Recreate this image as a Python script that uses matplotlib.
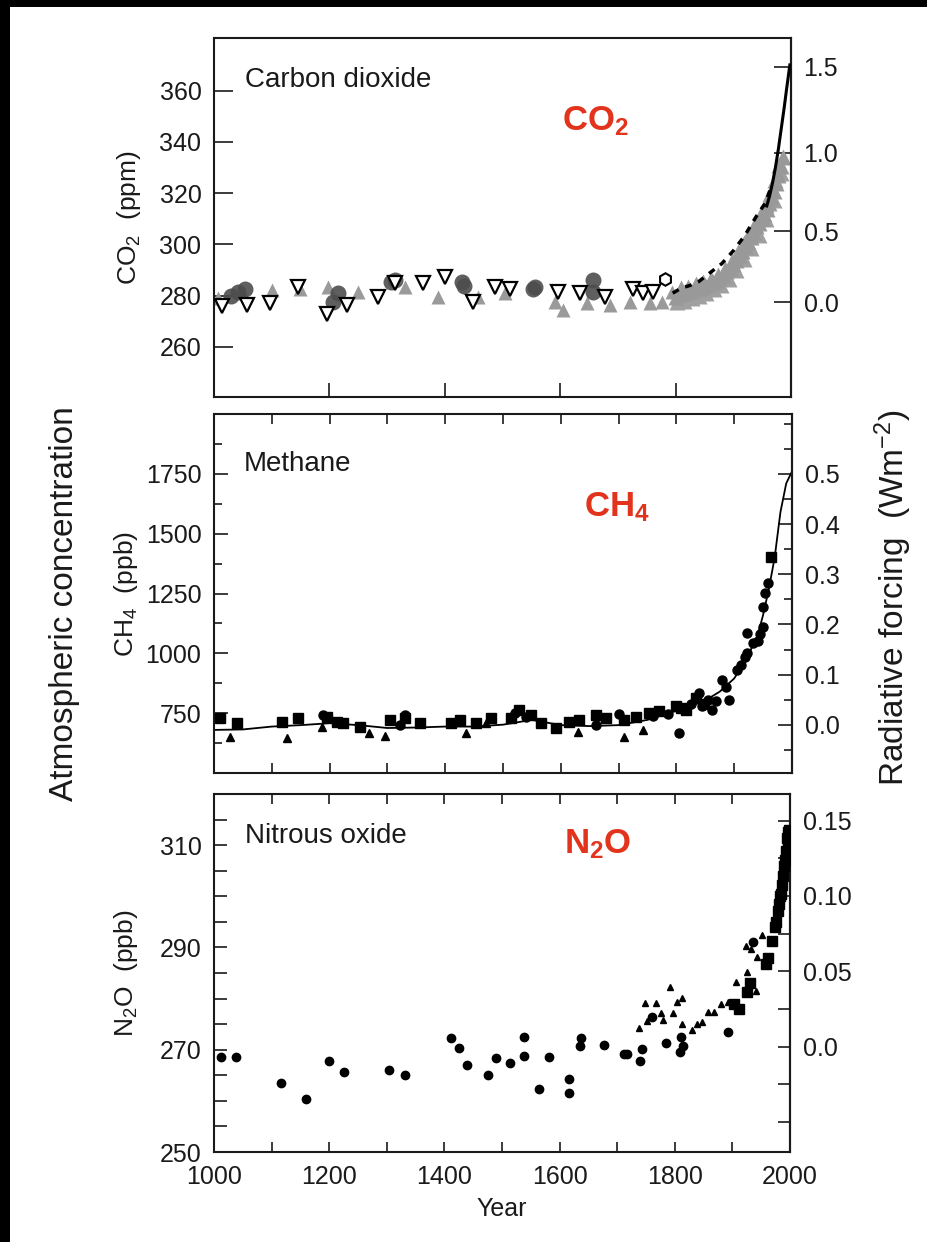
import numpy as np
import matplotlib
matplotlib.use("Agg")
import matplotlib.pyplot as plt
import matplotlib.patches as patches
from matplotlib.ticker import FixedLocator, MultipleLocator, FormatStrFormatter, FuncFormatter

plt.rcParams['font.family'] = ['Liberation Sans', 'DejaVu Sans']
plt.rcParams['mathtext.fontset'] = 'custom'
plt.rcParams['mathtext.rm'] = 'Liberation Sans'
plt.rcParams['mathtext.bf'] = 'Liberation Sans:bold'
plt.rcParams['mathtext.it'] = 'Liberation Sans:italic'

# ---------------- data ----------------
# CO2 (ppm)
co2_open_year = [1013, 1057, 1097, 1146, 1195, 1230, 1285, 1314, 1363, 1400, 1449, 1487,
                 1513, 1597, 1634, 1678, 1727, 1744, 1761]
co2_open_val = [276, 276.3, 277, 283.5, 273, 276.3, 279.6, 284.8, 284.8, 287.4, 277.6, 283.5,
                282.8, 281.5, 280.9, 279.6, 282.8, 280.9, 281.5]
co2_ring_year = [1782]
co2_ring_val = [286.7]
co2_circ_year = [1030, 1042, 1054, 1207, 1215, 1306, 1314, 1433, 1429, 1552, 1556, 1657, 1657]
co2_circ_val = [280, 281.5, 282.8, 277.6, 280.9, 285.4, 286, 283.8, 285.4, 282.6, 283.5, 286, 281.5]
co2_grey_year = [1007, 1048, 1100, 1149, 1198, 1250, 1331, 1389, 1458, 1504, 1591, 1605,
                 1646, 1686, 1721, 1756, 1776, 1793]
co2_grey_val = [279, 281.5, 282.2, 282.8, 283.5, 281.5, 283.5, 279.6, 279.6, 280.9, 277.6, 274.4,
                277, 276.3, 277.6, 277, 277.6, 281.5]
co2_band_year = [1800, 1806, 1812, 1818, 1825, 1832, 1838, 1845, 1851, 1858, 1864, 1870, 1876,
                 1882, 1888, 1894, 1900, 1905, 1910, 1915, 1920, 1925, 1930, 1935, 1940, 1945,
                 1950, 1954, 1958, 1962, 1966, 1970, 1974, 1978, 1982, 1986]
co2_band_val = [279.5, 280.5, 281, 281.5, 282, 282.5, 283, 283.5, 284, 284.5, 285.5, 286, 287,
                288, 289.5, 291, 292.5, 294, 296, 297.5, 299.5, 301, 303, 305, 307, 308.5,
                310.5, 312, 314, 316, 318.5, 321, 324, 327, 330.5, 334]
co2_band2_year = [1803, 1815, 1828, 1840, 1853, 1866, 1879, 1892, 1905, 1918, 1931, 1944, 1957,
                  1970, 1983]
co2_band2_val = [277.5, 278, 279, 280, 281, 282.5, 284, 286.5, 290, 294.5, 298.5, 303.5, 310,
                 317.5, 328]
co2_band3_year = [1809, 1822, 1835, 1848, 1861, 1873, 1885, 1897, 1908, 1918, 1928, 1938, 1948,
                  1956, 1964, 1972, 1980]
co2_band3_val = [283, 283.5, 284.5, 285.5, 286.5, 288, 290.5, 293.5, 297, 300.5, 304, 308, 312,
                 315.5, 319.5, 325, 331]
co2_ice_year = [1795, 1810, 1825, 1840, 1860, 1880, 1900, 1920, 1940, 1955, 1965]
co2_ice_val = [281, 283, 284, 285.5, 289, 292.5, 297.5, 303.5, 311, 316, 322]
co2_ml_year = [1958, 1963, 1968, 1973, 1978, 1983, 1988, 1992, 1995, 1998]
co2_ml_val = [315, 319, 324, 330, 337, 345, 353, 360, 365, 370]

# CH4 (ppb)
ch4_sq_year = [1010, 1039, 1117, 1146, 1195, 1212, 1223, 1252, 1304, 1330, 1356, 1410, 1425,
               1454, 1480, 1514, 1528, 1549, 1566, 1592, 1615, 1632, 1661, 1678, 1710, 1730,
               1753, 1770, 1799, 1808, 1816, 1834, 1848, 1963]
ch4_sq_val = [729, 708, 715, 729, 736, 715, 708, 694, 722, 729, 708, 708, 722,
              708, 729, 729, 764, 743, 708, 687, 715, 722, 743, 729, 722, 736,
              750, 757, 778, 770, 764, 813, 790, 1404]
ch4_tri_year = [1028, 1126, 1186, 1269, 1295, 1436, 1470, 1629, 1710, 1742]
ch4_tri_val = [652, 645, 694, 666, 655, 666, 708, 673, 652, 680]
ch4_dot_year = [1188, 1321, 1330, 1520, 1540, 1661, 1700, 1760, 1770, 1785, 1799, 1805, 1816,
                1826, 1834, 1839, 1845, 1855, 1862, 1868, 1879, 1885, 1891, 1905, 1912, 1918,
                1923, 1923, 1932, 1941, 1945, 1949, 1949, 1954, 1958]
ch4_dot_val = [743, 701, 743, 750, 735, 701, 745, 740, 757, 745, 778, 666, 764,
               790, 813, 834, 778, 805, 764, 800, 889, 860, 806, 931, 950, 985,
               1001, 1084, 1043, 1050, 1080, 1112, 1195, 1251, 1293]
ch4_line_year = [1000, 1050, 1100, 1150, 1200, 1250, 1300, 1350, 1400, 1450, 1500, 1550, 1600,
                 1650, 1700, 1750, 1800, 1825, 1850, 1875, 1900, 1920, 1940, 1950, 1960, 1970,
                 1980, 1990, 2000]
ch4_line_val = [680, 682, 694, 700, 708, 700, 688, 690, 694, 694, 702, 722, 700,
                696, 700, 722, 760, 780, 803, 840, 895, 973, 1070, 1160, 1270, 1400,
                1590, 1710, 1760]

# N2O (ppb)
n2o_dot_year = [1012, 1038, 1117, 1160, 1200, 1226, 1304, 1331, 1412, 1426, 1439, 1475, 1490,
                1514, 1538, 1538, 1564, 1581, 1616, 1616, 1635, 1637, 1677, 1712, 1717, 1740,
                1743, 1761, 1784, 1809, 1810, 1815, 1893, 1935]
n2o_dot_val = [268.6, 268.6, 263.4, 260.4, 267.7, 265.7, 266, 265, 272.3, 270.3, 267.1, 265, 268.3,
               267.4, 272.4, 268.8, 262.4, 268.5, 264.3, 261.5, 270.8, 272.3, 271, 269.2, 269.2, 267.7,
               270.2, 276.3, 271.4, 269.6, 272.5, 270.8, 273.5, 291.1]
n2o_tri_year = [1737, 1748, 1751, 1767, 1776, 1780, 1792, 1797, 1804, 1812, 1813, 1829, 1839,
                1848, 1858, 1868, 1880, 1892, 1906, 1923, 1926, 1932, 1941, 1943, 1952]
n2o_tri_val = [274.2, 279.1, 275.6, 279.1, 277.1, 275.9, 282.2, 277.1, 279.4, 280.2, 275, 273.9, 275,
               275.4, 277.4, 277.4, 279, 279.3, 283.3, 290.2, 285.1, 289.7, 281.4, 288.2, 292.5]
n2o_sq_year = [1903, 1912, 1926, 1930, 1958, 1961, 1968, 1974, 1976, 1979, 1981, 1983, 1984,
               1986, 1988, 1989, 1991, 1993, 1995, 1996, 1997, 1998, 1999]
n2o_sq_val = [278.9, 278, 281.3, 283, 286.8, 288, 291.3, 293.9, 295, 297.1, 298.5, 300, 300.4,
              302.3, 304, 305.9, 307, 308.8, 311.4, 310, 312.5, 313, 311]

red = '#e2341d'
ink = '#1a1a1a'

W, H = 928, 1242
fig = plt.figure(figsize=(W / 100, H / 100), dpi=100)


def box(x0, y0, x1, y1):
    return [x0 / W, 1 - y1 / H, (x1 - x0) / W, (y1 - y0) / H]


# black frame strips at the top and left of the picture
fig.patches.append(patches.Rectangle((0, 1 - 7 / H), 1, 7 / H, transform=fig.transFigure,
                                     facecolor='black', edgecolor='none'))
fig.patches.append(patches.Rectangle((0, 0), 10 / W, 1, transform=fig.transFigure,
                                     facecolor='black', edgecolor='none'))

ax1 = fig.add_axes(box(214, 38, 791, 397))
ax2 = fig.add_axes(box(214, 414, 792, 773))
ax3 = fig.add_axes(box(214, 794, 790, 1152))

for ax in (ax1, ax2, ax3):
    ax.set_xlim(1000, 2000)
    for s in ax.spines.values():
        s.set_linewidth(1.5)
        s.set_color(ink)
    ax.tick_params(direction='in', colors=ink, labelsize=18, width=1.2, pad=9)

# ---------- CO2 ----------
ax1.plot(co2_grey_year, co2_grey_val, '^', color='#9a9a9a', ms=10, mec='none', zorder=2)
ax1.plot(co2_band2_year, co2_band2_val, '^', color='#a0a0a0', ms=11, mec='none', zorder=2)
ax1.plot(co2_band3_year, co2_band3_val, '^', color='#9c9c9c', ms=11, mec='none', zorder=2)
ax1.plot(co2_band_year, co2_band_val, '^', color='#999999', ms=11, mec='none', zorder=2)
ax1.plot(co2_circ_year, co2_circ_val, 'o', color='#4d4d4d', ms=11.5, mec='none', alpha=0.9, zorder=3)
ax1.plot(co2_ice_year, co2_ice_val, color='black', lw=2.5, ls=(0, (2, 2)), zorder=4)
ax1.plot(co2_ml_year, co2_ml_val, color='black', lw=2.2, zorder=4)
ax1.plot(co2_open_year, co2_open_val, 'v', mfc='white', mec='black', ms=9.5, mew=1.6, zorder=5)
ax1.plot(co2_ring_year, co2_ring_val, 'h', mfc='white', mec='black', ms=9, mew=1.5, zorder=5)
ax1.set_ylim(240.5, 380.5)
ax1.yaxis.set_major_locator(FixedLocator([260, 280, 300, 320, 340, 360]))
ax1.xaxis.set_major_locator(FixedLocator([1200, 1400, 1600, 1800]))
ax1.tick_params(axis='y', length=14)
ax1.tick_params(axis='x', length=10, labelbottom=False)

co2_a, co2_c0 = 5.25, 277.5
sec1 = ax1.secondary_yaxis('right', functions=(lambda c: co2_a * np.log(np.maximum(c, 1e-6) / co2_c0),
                                               lambda f: co2_c0 * np.exp(f / co2_a)))
sec1.yaxis.set_major_locator(FixedLocator([0.0, 0.5, 1.0, 1.5]))
sec1.yaxis.set_major_formatter(FormatStrFormatter('%.1f'))
sec1.tick_params(direction='in', length=12, width=1.2, colors=ink, labelsize=18, pad=9)
sec1.spines['right'].set_linewidth(1.5)

ax1.text(0.054, 0.864, 'Carbon dioxide', transform=ax1.transAxes, fontsize=20, color=ink,
         va='baseline')
ax1.text(0.603, 0.743, r'$\mathbf{CO_2}$', transform=ax1.transAxes, fontsize=25, color=red,
         va='baseline')
ax1.text(-0.148, 0.5, r'CO$_2$  (ppm)', transform=ax1.transAxes, rotation=90, fontsize=19,
         color=ink, ha='center', va='center')

# ---------- CH4 ----------
ax2.plot(ch4_line_year, ch4_line_val, color='black', lw=1.3, zorder=2)
ax2.plot(ch4_sq_year, ch4_sq_val, 's', color='black', ms=7, zorder=3)
ax2.plot(ch4_tri_year, ch4_tri_val, '^', color='black', ms=5.5, zorder=3)
ax2.plot(ch4_dot_year, ch4_dot_val, 'o', color='black', ms=6.5, zorder=3)
ax2.set_ylim(500, 2000)
ax2.yaxis.set_major_locator(FixedLocator([750, 1000, 1250, 1500, 1750]))
ax2.yaxis.set_minor_locator(MultipleLocator(125))
ax2.xaxis.set_major_locator(MultipleLocator(100))
ax2.tick_params(axis='y', which='major', length=10)
ax2.tick_params(axis='y', which='minor', direction='in', length=6, width=1.2, colors=ink)
ax2.tick_params(axis='x', length=7, top=True, labelbottom=False)

sec2 = ax2.secondary_yaxis('right', functions=(lambda m: (m - 701) / 2098,
                                               lambda f: f * 2098 + 701))
sec2.yaxis.set_major_locator(FixedLocator([0.0, 0.1, 0.2, 0.3, 0.4, 0.5]))
sec2.yaxis.set_minor_locator(MultipleLocator(0.05))
sec2.yaxis.set_major_formatter(FormatStrFormatter('%.1f'))
sec2.tick_params(direction='in', length=10, width=1.2, colors=ink, labelsize=18, pad=9)
sec2.tick_params(which='minor', direction='in', length=6, width=1.2, colors=ink)
sec2.spines['right'].set_linewidth(1.5)

ax2.text(0.052, 0.842, 'Methane', transform=ax2.transAxes, fontsize=20, color=ink,
         va='baseline')
ax2.text(0.641, 0.714, r'$\mathbf{CH_4}$', transform=ax2.transAxes, fontsize=25, color=red,
         va='baseline')
ax2.text(-0.152, 0.5, r'CH$_4$  (ppb)', transform=ax2.transAxes, rotation=90, fontsize=19,
         color=ink, ha='center', va='center')

# ---------- N2O ----------
ax3.plot(n2o_dot_year, n2o_dot_val, 'o', color='black', ms=6, zorder=3)
ax3.plot(n2o_tri_year, n2o_tri_val, '^', color='black', ms=4, zorder=3)
ax3.plot(n2o_sq_year, n2o_sq_val, 's', color='black', ms=7.5, zorder=4)
ax3.set_ylim(250, 320)
ax3.yaxis.set_major_locator(FixedLocator([250, 270, 290, 310]))
ax3.yaxis.set_minor_locator(MultipleLocator(5))
ax3.xaxis.set_major_locator(MultipleLocator(200))
ax3.xaxis.set_minor_locator(MultipleLocator(100))
ax3.tick_params(axis='y', which='both', length=9, width=1.2, direction='in', colors=ink)
ax3.tick_params(axis='x', which='both', length=7, width=1.2, top=True, direction='in', colors=ink)

sec3 = ax3.secondary_yaxis('right', functions=(lambda n: (n - 270.6) * 0.003394,
                                               lambda f: f / 0.003394 + 270.6))
sec3.yaxis.set_major_locator(FixedLocator([0.0, 0.05, 0.10, 0.15]))
sec3.yaxis.set_minor_locator(MultipleLocator(0.025))
sec3.yaxis.set_major_formatter(FuncFormatter(lambda v, p: '0.0' if abs(v) < 1e-9 else '%.2f' % v))
sec3.tick_params(which='both', direction='in', length=9, width=1.2, colors=ink, labelsize=18, pad=9)
sec3.spines['right'].set_linewidth(1.5)

ax3.text(0.054, 0.862, 'Nitrous oxide', transform=ax3.transAxes, fontsize=20, color=ink,
         va='baseline')
ax3.text(0.607, 0.834, r'$\mathbf{N_2O}$', transform=ax3.transAxes, fontsize=25, color=red,
         va='baseline')
ax3.text(-0.152, 0.5, r'N$_2$O  (ppb)', transform=ax3.transAxes, rotation=90, fontsize=19,
         color=ink, ha='center', va='center')
ax3.set_xlabel('Year', fontsize=18, color=ink, labelpad=6)

# shared outer labels
fig.text(65 / W, 1 - 604 / H, 'Atmospheric concentration', rotation=90, fontsize=24,
         color=ink, ha='center', va='center')
fig.text(893 / W, 1 - 598 / H, r'Radiative forcing  (Wm$^{-2}$)', rotation=90, fontsize=24,
         color=ink, ha='center', va='center')

fig.savefig('out.png', dpi=100, facecolor='white')
